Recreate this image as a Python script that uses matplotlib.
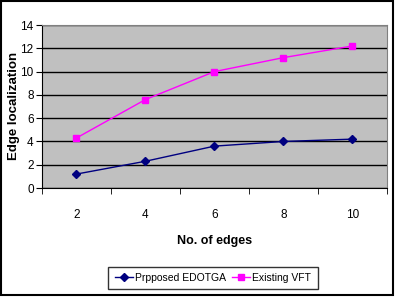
import matplotlib.pyplot as plt
from matplotlib.patches import Rectangle

plt.rcParams['font.family'] = ['Liberation Sans', 'DejaVu Sans']

edges = ['2', '4', '6', '8', '10']
edotga = [1.2, 2.3, 3.6, 4.0, 4.2]
vft = [4.3, 7.6, 10.0, 11.2, 12.2]

fig = plt.figure(figsize=(3.98, 2.98), dpi=100)
ax = fig.add_axes([0.1055, 0.369, 0.8665, 0.547])
ax.set_facecolor('#C0C0C0')

x = range(len(edges))
ax.plot(x, edotga, color='#000080', marker='D', markersize=4, lw=1,
        label='Prpposed EDOTGA')
ax.plot(x, vft, color='#FF00FF', marker='s', markersize=4, lw=1,
        label='Existing VFT')

ax.set_ylim(0, 14)
ax.set_yticks(range(0, 15, 2))
ax.yaxis.grid(True, color='black', lw=1)
ax.set_axisbelow(True)
ax.set_xlim(-0.5, len(edges) - 0.5)
ax.set_xticks(list(x))
ax.set_xticklabels(edges)
ax.set_xticks([i - 0.5 for i in range(len(edges) + 1)], minor=True)
ax.tick_params(axis='x', which='major', length=0, pad=15, labelsize=8.5)
ax.tick_params(axis='x', which='minor', length=4, direction='out')
ax.tick_params(axis='y', length=4, direction='out', labelsize=8.5, pad=2)

for s in ['top', 'right']:
    ax.spines[s].set_color('#808080')
ax.spines['left'].set_color('black')
ax.spines['bottom'].set_color('black')

ax.set_xlabel('No. of edges', fontsize=9, fontweight='bold', labelpad=10)
fig.text(0.036, 0.644, 'Edge localization', rotation=90, ha='center', va='center',
         fontsize=9.5, fontweight='bold')

leg = fig.legend(loc='center', bbox_to_anchor=(0.535, 0.067), ncol=2,
                 fontsize=7.5, frameon=True, fancybox=False, handlelength=1.8,
                 columnspacing=0.5, handletextpad=0.2, borderpad=0.6)
leg.get_frame().set_edgecolor('black')
leg.get_frame().set_linewidth(1)

fig.patches.append(Rectangle((0.002, 0.01), 0.985, 0.985, transform=fig.transFigure,
                             fill=False, edgecolor='black', lw=1.5))

fig.savefig('out.png', dpi=100)
